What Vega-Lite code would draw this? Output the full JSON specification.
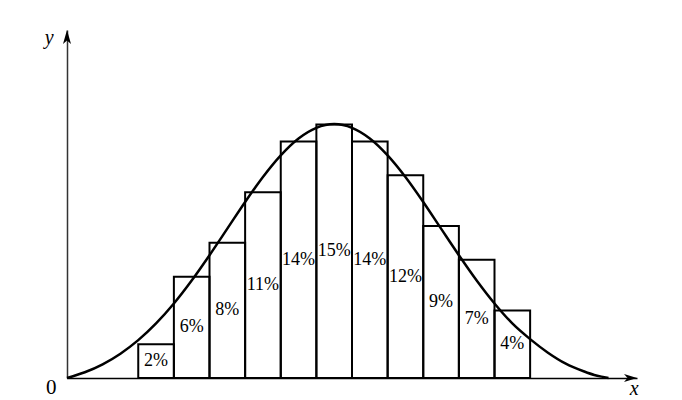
{
  "$schema": "https://vega.github.io/schema/vega-lite/v6.json",
  "width": 570,
  "height": 348,
  "autosize": {"type": "none"},
  "padding": {"left": 67, "top": 30, "right": 45, "bottom": 22},
  "background": "white",
  "config": {"view": {"stroke": null}},
  "datasets": {
    "bars": [
      {"x0": 0, "x1": 1, "pct": 2, "label": "2%"},
      {"x0": 1, "x1": 2, "pct": 6, "label": "6%"},
      {"x0": 2, "x1": 3, "pct": 8, "label": "8%"},
      {"x0": 3, "x1": 4, "pct": 11, "label": "11%"},
      {"x0": 4, "x1": 5, "pct": 14, "label": "14%"},
      {"x0": 5, "x1": 6, "pct": 15, "label": "15%"},
      {"x0": 6, "x1": 7, "pct": 14, "label": "14%"},
      {"x0": 7, "x1": 8, "pct": 12, "label": "12%"},
      {"x0": 8, "x1": 9, "pct": 9, "label": "9%"},
      {"x0": 9, "x1": 10, "pct": 7, "label": "7%"},
      {"x0": 10, "x1": 11, "pct": 4, "label": "4%"}
    ],
    "curve": [
      {"x": -2, "y": 0},
      {"x": -1.75, "y": 0.16},
      {"x": -1.5, "y": 0.34},
      {"x": -1, "y": 0.81},
      {"x": -0.5, "y": 1.44},
      {"x": 0, "y": 2.24},
      {"x": 0.5, "y": 3.23},
      {"x": 1, "y": 4.41},
      {"x": 1.5, "y": 5.77},
      {"x": 2, "y": 7.27},
      {"x": 2.5, "y": 8.84},
      {"x": 3, "y": 10.42},
      {"x": 3.5, "y": 11.9},
      {"x": 4, "y": 13.18},
      {"x": 4.5, "y": 14.18},
      {"x": 5, "y": 14.81},
      {"x": 5.5, "y": 15.03},
      {"x": 6, "y": 14.81},
      {"x": 6.5, "y": 14.18},
      {"x": 7, "y": 13.18},
      {"x": 7.5, "y": 11.9},
      {"x": 8, "y": 10.42},
      {"x": 8.5, "y": 8.84},
      {"x": 9, "y": 7.27},
      {"x": 9.5, "y": 5.77},
      {"x": 10, "y": 4.41},
      {"x": 10.5, "y": 3.23},
      {"x": 11, "y": 2.3},
      {"x": 11.5, "y": 1.5},
      {"x": 12, "y": 0.85},
      {"x": 12.5, "y": 0.4},
      {"x": 12.8, "y": 0.18},
      {"x": 13, "y": 0.08},
      {"x": 13.2, "y": 0}
    ],
    "arrows": [
      {"x": -2, "y": 20.6, "dir": "up"},
      {"x": 14, "y": 0, "dir": "right"}
    ],
    "axisTextUpright": [
      {"x": -2.44, "y": -0.59, "t": "0"}
    ],
    "axisTextItalic": [
      {"x": 13.92, "y": -0.98, "t": "x"},
      {"x": -2.5, "y": 19.76, "t": "y"}
    ]
  },
  "layer": [
    {
      "data": {"name": "bars"},
      "mark": {"type": "rect", "fill": null, "stroke": "black", "strokeWidth": 2},
      "encoding": {
        "x": {"field": "x0", "type": "quantitative", "scale": {"domain": [-2, 14], "nice": false, "zero": false},
              "axis": {"title": null, "labels": false, "ticks": false, "grid": false, "domainColor": "black", "domainWidth": 1.5}},
        "x2": {"field": "x1"},
        "y": {"field": "pct", "type": "quantitative", "scale": {"domain": [0, 20.6], "nice": false},
              "axis": {"title": null, "labels": false, "ticks": false, "grid": false, "domainColor": "#333", "domainWidth": 1.5}},
        "y2": {"datum": 0}
      }
    },
    {
      "data": {"name": "bars"},
      "transform": [
        {"calculate": "datum.x0 + 0.5", "as": "xm"},
        {"calculate": "datum.pct / 2", "as": "ym"}
      ],
      "mark": {"type": "text", "font": "Liberation Serif", "fontSize": 18, "align": "center", "baseline": "middle", "color": "black"},
      "encoding": {
        "x": {"field": "xm", "type": "quantitative"},
        "y": {"field": "ym", "type": "quantitative"},
        "text": {"field": "label"}
      }
    },
    {
      "data": {"name": "curve"},
      "mark": {"type": "line", "color": "black", "strokeWidth": 2.5, "interpolate": "monotone"},
      "encoding": {
        "x": {"field": "x", "type": "quantitative"},
        "y": {"field": "y", "type": "quantitative"}
      }
    },
    {
      "data": {"name": "arrows"},
      "mark": {"type": "point", "filled": true, "color": "black", "size": 400, "opacity": 1, "strokeWidth": 0},
      "encoding": {
        "x": {"field": "x", "type": "quantitative"},
        "y": {"field": "y", "type": "quantitative"},
        "shape": {"field": "dir", "type": "nominal",
                  "scale": {"domain": ["up", "right"], "range": ["M0,0L0.4,1.4L0,1.05L-0.4,1.4Z", "M0,0L-1.3,-0.4L-0.95,0L-1.3,0.4Z"]},
                  "legend": null}
      }
    },
    {
      "data": {"name": "axisTextUpright"},
      "mark": {"type": "text", "font": "Liberation Serif", "fontSize": 21, "align": "center", "baseline": "middle", "color": "black"},
      "encoding": {
        "x": {"field": "x", "type": "quantitative"},
        "y": {"field": "y", "type": "quantitative"},
        "text": {"field": "t"}
      }
    },
    {
      "data": {"name": "axisTextItalic"},
      "mark": {"type": "text", "font": "Liberation Serif", "fontSize": 20, "fontStyle": "italic", "align": "center", "baseline": "alphabetic", "color": "black"},
      "encoding": {
        "x": {"field": "x", "type": "quantitative"},
        "y": {"field": "y", "type": "quantitative"},
        "text": {"field": "t"}
      }
    }
  ]
}
